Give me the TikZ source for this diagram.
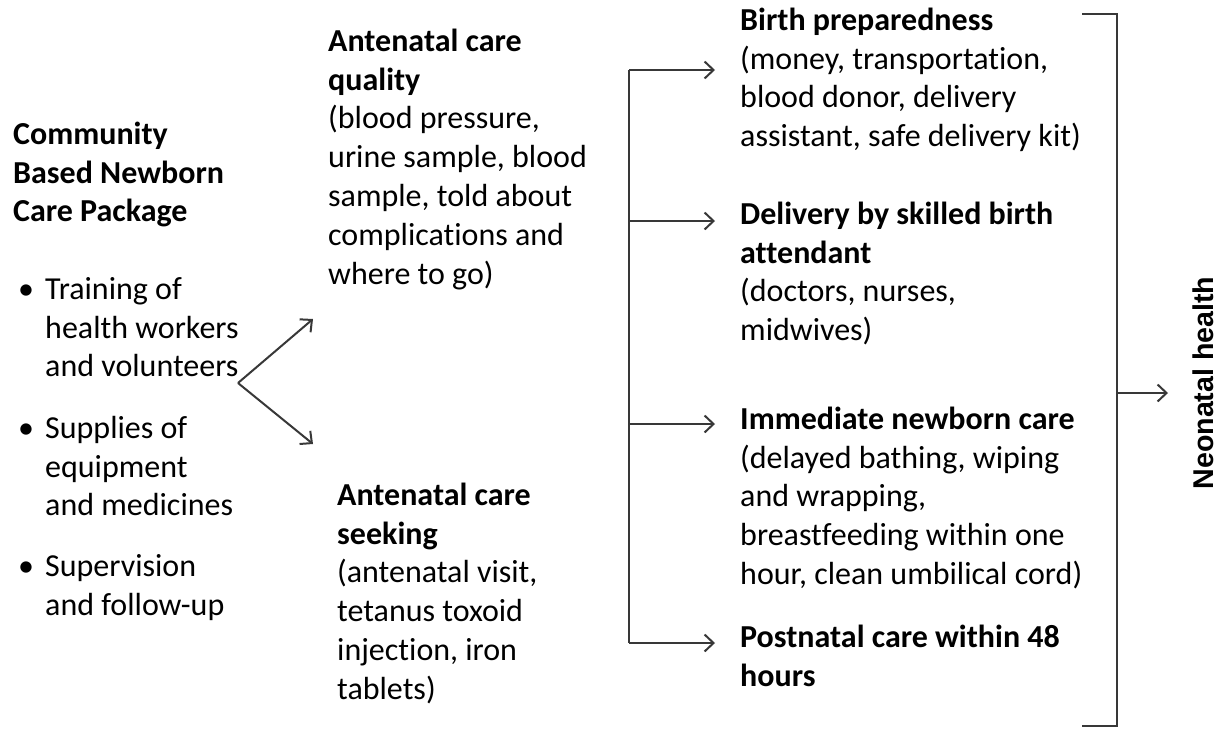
\documentclass[tikz,border=0pt]{standalone}
\usepackage{fontspec}
\setmainfont[Ligatures=NoCommon]{Carlito}
\newfontfamily\outfont{Liberation Sans}
\usetikzlibrary{arrows.meta}
\newcommand{\fl}{\rule{0pt}{24pt}}
\newcommand{\bul}{\makebox[27pt][l]{•}}
\newcommand{\ind}{\hspace*{27pt}}
\begin{document}
\begin{tikzpicture}[x=1pt,y=-1pt,
  txt/.style={inner sep=0pt,anchor=north west,align=left,
    font=\fontsize{32}{38.8}\selectfont,text=black},
  conn/.style={draw=black!78,line width=2pt},
  arr/.style={conn,-{Straight Barb[length=9pt,width=17pt,line width=2pt]}}]
\useasboundingbox (0,0) rectangle (1222,728);

% left column: package and its components
\node[txt] (pkg) at (13,120) {\fl\textbf{Community}\\\textbf{Based Newborn}\\\textbf{Care Package}};
\node[txt] (b1) at (18,275) {\fl\bul Training of\\\ind health workers\\\ind and volunteers};
\node[txt] (b2) at (18,414) {\fl\bul Supplies of\\\ind equipment\\\ind and medicines};
\node[txt] (b3) at (18,552) {\fl\bul Supervision\\\ind and follow-up};

% middle column: antenatal care
\node[txt] (q) at (328,27) {\fl\textbf{Antenatal care}\\\textbf{quality}\\(blood pressure,\\urine sample, blood\\sample, told about\\complications and\\where to go)};
\node[txt] (s) at (337,481) {\fl\textbf{Antenatal care}\\\textbf{seeking}\\(antenatal visit,\\tetanus toxoid\\injection, iron\\tablets)};

% right column: delivery and newborn practices
\node[txt] (bp) at (740,6) {\fl\textbf{Birth preparedness}\\(money, transportation,\\blood donor, delivery\\assistant, safe delivery kit)};
\node[txt] (sba) at (740,200) {\fl\textbf{Delivery by skilled birth}\\\textbf{attendant}\\(doctors, nurses,\\midwives)};
\node[txt] (inc) at (740,405) {\fl\textbf{Immediate newborn care}\\(delayed bathing, wiping\\and wrapping,\\breastfeeding within one\\hour, clean umbilical cord)};
\node[txt] (pnc) at (740,623) {\fl\textbf{Postnatal care within 48}\\\textbf{hours}};

% outcome
\node[inner sep=0pt,rotate=90,anchor=base,font=\outfont\fontsize{28.6}{34}\selectfont\bfseries] (neo) at (1213,383) {Neonatal health};

% package to antenatal care
\coordinate (apex) at (238,383);
\coordinate (tq) at (313,319);
\coordinate (ts) at (313,444);
\draw[arr] (apex) -- (tq);
\draw[arr] (apex) -- (ts);

% antenatal care to delivery and newborn practices
\coordinate (lt) at (629,70);
\coordinate (lb) at (629,643);
\draw[conn] (lt) -- (lb);
\draw[arr] (lt) -- (715,70);
\draw[arr] (629,221) -- (715,221);
\draw[arr] (629,424) -- (715,424);
\draw[arr] (lb) -- (715,643);

% practices to neonatal health
\coordinate (rt) at (1117,14);
\coordinate (rb) at (1117,726);
\draw[conn] (1082,14) -- (rt) -- (rb) -- (1082,726);
\draw[arr] (1117,393) -- (1168,393);
\end{tikzpicture}
\end{document}
